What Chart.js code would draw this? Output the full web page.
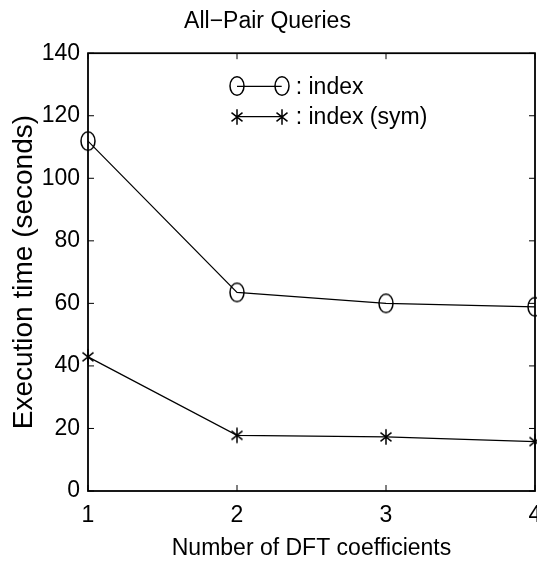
<!DOCTYPE html>
<html><head><meta charset="utf-8">
<script src="https://cdn.jsdelivr.net/npm/chart.js@4/dist/chart.umd.min.js"></script>
<style>html,body{margin:0;padding:0;background:#fff}#wrap{width:537px;height:569px}</style>
</head><body><div id="wrap"><canvas id="c" width="537" height="569"></canvas></div>
<script>
const dftCoefficients = [1, 2, 3, 4];
const indexTimes = [111.9, 63.5, 60.0, 58.9];
const indexSymTimes = [42.9, 17.8, 17.3, 15.8];
const yTicks = [0, 20, 40, 60, 80, 100, 120, 140];
const seriesNames = [': index', ': index (sym)'];

function hasFont(name) {
  const c = document.createElement('canvas').getContext('2d');
  c.font = '40px monospace';
  const w0 = c.measureText('Number of DFT coefficients').width;
  c.font = '40px "' + name + '", monospace';
  return c.measureText('Number of DFT coefficients').width !== w0;
}
const NARROW_OK = hasFont('Liberation Sans Narrow');
const HFONT = NARROW_OK ? "'Liberation Sans Narrow', 'Liberation Sans', Arial, sans-serif" : "'Liberation Sans', Arial, sans-serif";
const HSIZE = NARROW_OK ? 27 : 23;
const VFONT = "'Liberation Sans', Arial, sans-serif";

function makeEllipse() {
  const cv = document.createElement('canvas');
  cv.width = 18; cv.height = 22;
  const g = cv.getContext('2d');
  g.strokeStyle = '#000'; g.lineWidth = 1.5;
  g.beginPath(); g.ellipse(9, 11, 7, 9.3, 0, 0, Math.PI * 2); g.stroke();
  return cv;
}
function makeStar() {
  const cv = document.createElement('canvas');
  cv.width = 14; cv.height = 18;
  const g = cv.getContext('2d');
  g.strokeStyle = '#000'; g.lineWidth = 1.5;
  const cx = 7, cy = 9, rx = 5.5, ry = 7.8;
  g.beginPath();
  g.moveTo(cx, cy - ry); g.lineTo(cx, cy + ry);
  g.moveTo(cx - rx, cy - ry * 0.55); g.lineTo(cx + rx, cy + ry * 0.55);
  g.moveTo(cx - rx, cy + ry * 0.55); g.lineTo(cx + rx, cy - ry * 0.55);
  g.stroke();
  return cv;
}
const ellipseImg = makeEllipse();
const starImg = makeStar();

const boxPlugin = {
  id: 'box',
  afterDraw(chart) {
    const {ctx, chartArea: a, scales: {x, y}} = chart;
    ctx.save();
    ctx.strokeStyle = '#000';
    ctx.lineWidth = 1;
    const t = 6;
    x.ticks.forEach(tk => {
      const px = x.getPixelForValue(tk.value);
      ctx.beginPath(); ctx.moveTo(px, a.bottom); ctx.lineTo(px, a.bottom - t); ctx.stroke();
      ctx.beginPath(); ctx.moveTo(px, a.top); ctx.lineTo(px, a.top + t); ctx.stroke();
    });
    y.ticks.forEach(tk => {
      const py = y.getPixelForValue(tk.value);
      ctx.beginPath(); ctx.moveTo(a.left, py); ctx.lineTo(a.left + t, py); ctx.stroke();
      ctx.beginPath(); ctx.moveTo(a.right, py); ctx.lineTo(a.right - t, py); ctx.stroke();
    });
    ctx.lineWidth = 1.8;
    ctx.strokeRect(a.left, a.top, a.right - a.left, a.bottom - a.top);
    // legend
    const lx0 = x.getPixelForValue(2.0), lx1 = x.getPixelForValue(2.3);
    const rows = [y.getPixelForValue(129.4), y.getPixelForValue(119.7)];
    chart.data.datasets.forEach((ds, i) => {
      const ly = rows[i];
      ctx.lineWidth = 1.2;
      ctx.strokeStyle = '#000';
      ctx.beginPath(); ctx.moveTo(lx0, ly); ctx.lineTo(lx1, ly); ctx.stroke();
      [lx0, lx1].forEach(px => {
        Chart.helpers.drawPoint(ctx, {pointStyle: ds.pointStyle, radius: 8, borderWidth: 1}, Math.round(px), Math.round(ly));
      });
      ctx.fillStyle = '#000';
      ctx.font = HSIZE + 'px ' + HFONT;
      ctx.textBaseline = 'middle';
      ctx.textAlign = 'left';
      ctx.fillText(seriesNames[i], lx1 + 14, ly + 1);
    });
    ctx.restore();
  }
};

function noPad(s) { s.paddingLeft = 0; s.paddingRight = 0; s.paddingTop = 0; s.paddingBottom = 0; }

new Chart(document.getElementById('c'), {
  type: 'line',
  data: {
    datasets: [
      {label: 'index', data: dftCoefficients.map((v, i) => ({x: v, y: indexTimes[i]})),
       borderColor: '#000', borderWidth: 1.2, pointStyle: ellipseImg, pointRadius: 8,
       clip: false, tension: 0},
      {label: 'index (sym)', data: dftCoefficients.map((v, i) => ({x: v, y: indexSymTimes[i]})),
       borderColor: '#000', borderWidth: 1.2, pointStyle: starImg, pointRadius: 7,
       clip: false, tension: 0}
    ]
  },
  options: {
    responsive: false, animation: false,
    layout: {padding: {top: 0, right: 2, left: 0, bottom: 0}, autoPadding: false},
    plugins: {
      legend: {display: false}, tooltip: {enabled: false},
      title: {display: true, text: 'All\u2212Pair Queries', color: '#000',
        font: {family: HFONT, size: HSIZE, weight: 'normal', lineHeight: 1.2}, padding: {top: 8, bottom: 17.6}}
    },
    scales: {
      x: {type: 'linear', min: 1, max: 4,
        afterBuildTicks: s => { s.ticks = dftCoefficients.map(v => ({value: v})); },
        afterFit: s => { s.height = 78; noPad(s); },
        grid: {display: false, drawTicks: false},
        border: {display: false},
        ticks: {color: '#000', padding: 11, font: {family: HFONT, size: HSIZE}},
        title: {display: true, text: 'Number of DFT coefficients', color: '#000',
          font: {family: HFONT, size: HSIZE}, padding: {top: 0, bottom: 7}}
      },
      y: {min: 0, max: 140,
        afterBuildTicks: s => { s.ticks = yTicks.map(v => ({value: v})); },
        afterFit: s => { s.width = 88; noPad(s); },
        grid: {display: false, drawTicks: false},
        border: {display: false},
        ticks: {color: '#000', padding: 8, font: {family: HFONT, size: HSIZE}},
        title: {display: true, text: 'Execution time (seconds)', color: '#000',
          font: {family: VFONT, size: 28}, padding: {top: 7, bottom: 0}}
      }
    }
  },
  plugins: [boxPlugin]
});
</script></body></html>
